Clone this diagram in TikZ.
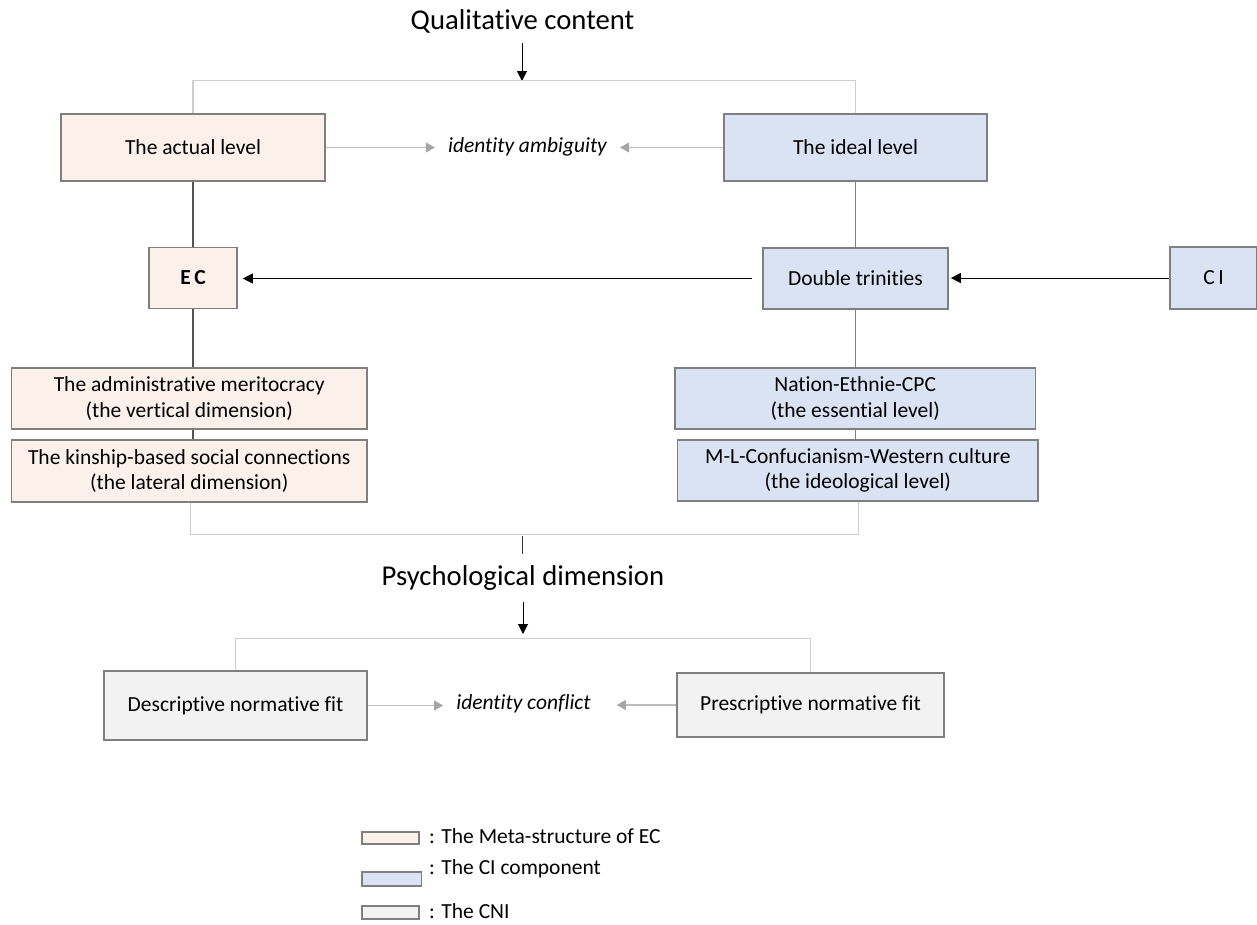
\documentclass[tikz,border=0pt]{standalone}
\usepackage{fontspec}
\setmainfont[Ligatures=NoCommon]{Carlito}
\usetikzlibrary{arrows.meta}
\definecolor{peach}{HTML}{FBF1EA}
\definecolor{paleblue}{HTML}{DAE3F3}
\definecolor{palegray}{HTML}{F2F2F2}
\definecolor{edgegray}{HTML}{7F7F7F}
\definecolor{bracketgray}{HTML}{CFCFCF}
\definecolor{fadegray}{HTML}{BDBDBD}
\definecolor{tipgray}{HTML}{A6A6A6}
\tikzset{
  box/.style={draw=edgegray, line width=1.6pt, minimum width=#1, inner sep=0pt, align=center,
    font=\fontsize{21.5}{25.5}\selectfont},
  ecbox/.style={box=#1, fill=peach},
  cibox/.style={box=#1, fill=paleblue},
  cnibox/.style={box=#1, fill=palegray},
  heading/.style={inner sep=0pt, font=\fontsize{28.7}{34}\selectfont},
  plain/.style={inner sep=0pt, font=\fontsize{21.5}{25.5}\selectfont},
  outcome/.style={inner sep=0pt, font=\fontsize{21.5}{25.5}\selectfont\itshape},
  bracket/.style={draw=bracketgray, line width=1.3pt},
  link/.style={draw=#1, line width=1.3pt},
  mainarrow/.style={draw=black, line width=1pt, -{Triangle[length=10pt,width=10pt]}},
  softarrow/.style={draw=fadegray, line width=1.3pt, -{Triangle[length=9pt,width=10pt,color=tipgray]}},
  keybox/.style={draw=edgegray, line width=1.2pt, minimum width=#1, inner sep=0pt},
}
\begin{document}
\begin{tikzpicture}[x=1pt, y=-1pt]
\useasboundingbox (0,0) rectangle (1257,924);

% headings
\node[heading] (qual) at (522.5,21) {Qualitative content};
\node[heading] (psych) at (523,578) {Psychological dimension};

% upper level boxes
\node[ecbox=263.5pt, minimum height=67pt] (actual) at (193,147.5) {The actual level};
\node[cibox=263pt, minimum height=67pt] (ideal) at (855.5,147.5) {The ideal level};
\node[outcome] (ambig) at (527.5,147) {identity ambiguity};

\node[ecbox=88pt, minimum height=61pt, font=\fontsize{21.5}{25.5}\selectfont\bfseries] (ec) at (193,278) {E\,C};
\node[cibox=185pt, minimum height=61pt] (dt) at (855.5,278.5) {Double trinities};
\node[cibox=87pt, minimum height=62pt] (ci) at (1213.5,278) {C\,I};

\node[ecbox=355.6pt, minimum height=61pt] (admin) at (189.2,398.5) {The administrative meritocracy\\(the vertical dimension)};
\node[ecbox=355.6pt, minimum height=62pt] (kin) at (189.2,471) {The kinship-based social connections\\(the lateral dimension)};
\node[cibox=360.5pt, minimum height=61pt] (nation) at (855.2,398.5) {Nation-Ethnie-CPC\\(the essential level)};
\node[cibox=360.5pt, minimum height=61pt] (ml) at (857.8,470.5) {M-L-Confucianism-Western culture\\(the ideological level)};

% lower level boxes
\node[cnibox=263pt, minimum height=69pt] (desc) at (235.5,705.5) {Descriptive normative fit};
\node[cnibox=267pt, minimum height=64pt] (presc) at (810.5,705) {Prescriptive normative fit};
\node[outcome] (conflict) at (523.5,704) {identity conflict};

% top bracket
\coordinate (qtop) at (522,43);
\coordinate (qjoin) at (522,81);
\draw[mainarrow] (qtop) -- (qjoin);
\draw[bracket] (actual.north) -- ++(0,-33) -| (ideal.north);

% identity ambiguity
\draw[softarrow] (actual.east) -- ([xshift=-13pt]ambig.west |- actual.east);
\draw[softarrow] (ideal.west) -- ([xshift=13pt]ambig.east |- ideal.west);

% vertical links
\draw[link=black!67] (actual.south) -- (ec.north);
\draw[link=edgegray] (ideal.south) -- (dt.north);
\draw[link=black!67] (ec.south) -- (ec.south |- admin.north);
\draw[link=edgegray] (dt.south) -- (dt.south |- nation.north);
\draw[link=black!67] (ec.south |- admin.south) -- (ec.south |- kin.north);
\draw[link=edgegray] (dt.south |- nation.south) -- (dt.south |- ml.north);

% horizontal arrows
\draw[mainarrow] ([xshift=-10pt]dt.west) -- ([xshift=5pt]ec.east |- dt.west);
\draw[mainarrow] (ci.west) -- ([xshift=2pt]dt.east |- ci.west);

% middle bracket
\coordinate (mtop) at (522,536);
\coordinate (mbot) at (522,554);
\draw[bracket] ([xshift=1pt]kin.south) -- ++(0,32) -| ([xshift=0.6pt]ml.south);
\draw[line width=1pt, black!80] (mtop) -- (mbot);
\coordinate (ptop) at (523,602);
\coordinate (pjoin) at (523,634);
\draw[mainarrow] (ptop) -- (pjoin);

% lower bracket
\draw[bracket] (desc.north) -- ++(0,-32) -| (presc.north);

% identity conflict
\draw[softarrow] (desc.east) -- ([xshift=-13pt]conflict.west |- desc.east);
\draw[softarrow] (presc.west) -- ([xshift=26pt]conflict.east |- presc.west);

% key
\node[keybox=57pt, minimum height=12pt, fill=peach] (k1) at (390.5,838) {};
\node[plain, anchor=west] (t1) at (429,836) {: The Meta-structure of EC};
\node[keybox=59.5pt, minimum height=14pt, fill=paleblue] (k2) at (391.7,879) {};
\node[plain, anchor=west] (t2) at (429,869) {: The CI component};
\node[keybox=57pt, minimum height=13pt, fill=palegray] (k3) at (390.5,912.5) {};
\node[plain, anchor=west] (t3) at (429,911) {: The CNI};
\end{tikzpicture}
\end{document}
